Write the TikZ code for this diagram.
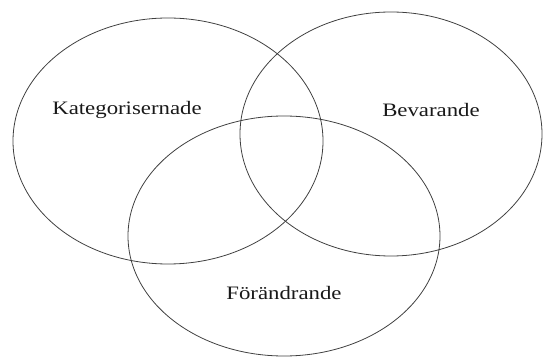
\documentclass[tikz,border=0pt]{standalone}
\usepackage{fontspec}
\setmainfont{Liberation Serif}
\usetikzlibrary{shapes.geometric}
\begin{document}
\begin{tikzpicture}[x=1pt,y=-1pt,
  setbox/.style={draw=black!75, line width=0.8pt, ellipse, inner sep=0pt},
  lbl/.style={font=\fontsize{19}{22}\selectfont, xscale=1.2, text=black!90}]
\useasboundingbox (0,0) rectangle (544,358);
\node[setbox, minimum width=310pt, minimum height=246pt] (kat) at (168,141) {};
\node[setbox, minimum width=302pt, minimum height=244pt] (bev) at (391,134) {};
\node[setbox, minimum width=312pt, minimum height=240pt] (for) at (284,236) {};
\node[lbl] (tkat) at (127,110) {Kategorisernade};
\node[lbl] (tbev) at (431,110) {Bevarande};
\node[lbl] (tfor) at (284,293) {Förändrande};
\end{tikzpicture}
\end{document}
